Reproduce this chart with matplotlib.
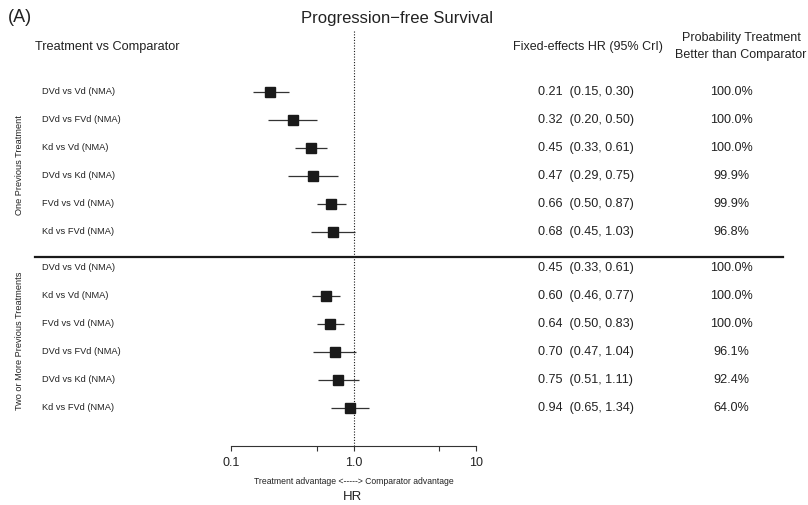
import matplotlib
matplotlib.use("Agg")
import matplotlib.pyplot as plt
import numpy as np
from matplotlib import transforms
from matplotlib.ticker import NullLocator

plt.rcParams['font.family'] = ['Liberation Sans', 'DejaVu Sans']

groups = ["One Previous Treatment", "Two or More Previous Treatments"]

labels_one = ["DVd vs Vd (NMA)", "DVd vs FVd (NMA)", "Kd vs Vd (NMA)",
              "DVd vs Kd (NMA)", "FVd vs Vd (NMA)", "Kd vs FVd (NMA)"]
hr_one = [0.21, 0.32, 0.45, 0.47, 0.66, 0.68]
lo_one = [0.15, 0.20, 0.33, 0.29, 0.50, 0.45]
hi_one = [0.30, 0.50, 0.61, 0.75, 0.87, 1.03]
prob_one = [100.0, 100.0, 100.0, 99.9, 99.9, 96.8]
shown_one = [True, True, True, True, True, True]

labels_two = ["DVd vs Vd (NMA)", "Kd vs Vd (NMA)", "FVd vs Vd (NMA)",
              "DVd vs FVd (NMA)", "DVd vs Kd (NMA)", "Kd vs FVd (NMA)"]
hr_two = [0.45, 0.60, 0.64, 0.70, 0.75, 0.94]
lo_two = [0.33, 0.46, 0.50, 0.47, 0.51, 0.65]
hi_two = [0.61, 0.77, 0.83, 1.04, 1.11, 1.34]
prob_two = [100.0, 100.0, 100.0, 96.1, 92.4, 64.0]
shown_two = [False, True, True, True, True, True]  # no point drawn for first row in original

x_ticks = [0.1, 0.5, 1, 5, 10]
x_ticklabels = ["0.1", "", "1.0", "", "10"]

W, H = 808, 505
dark = "#1a1a1a"
txt = "#222222"

fig = plt.figure(figsize=(W / 100, H / 100), dpi=100)
ax = fig.add_axes([231 / W, 1 - 446 / H, 245 / W, (446 - 30) / H])
ax.set_xscale("log")
ax.set_xlim(0.1, 10)
# rows are 28 px apart, first row at y=92 px
ax.set_ylim((446 - 92) / 28, (30 - 92) / 28)

blend = transforms.blended_transform_factory(fig.transFigure, ax.transData)

rows_one = np.arange(6)
rows_two = np.arange(6) + 6 + 8 / 28
sep = (257 - 92) / 28

blocks = [
    (rows_one, labels_one, hr_one, lo_one, hi_one, prob_one, shown_one),
    (rows_two, labels_two, hr_two, lo_two, hi_two, prob_two, shown_two),
]

for g, (rows, labs, hr, lo, hi, prob, shown) in enumerate(blocks):
    for y, lab, h, l, u, p, s in zip(rows, labs, hr, lo, hi, prob, shown):
        if s:
            ax.plot([l, u], [y, y], color="#333333", lw=0.9, solid_capstyle="butt")
            ax.plot(h, y, "s", ms=6.8, color=dark)
        ax.text(42 / W, y, lab, transform=blend, ha="left", va="center",
                fontsize=6.7, color=txt)
        ax.text(538 / W, y, f"{h:.2f}  ({l:.2f}, {u:.2f})", transform=blend,
                ha="left", va="center", fontsize=9.1, color=txt)
        ax.text(731 / W, y, f"{p:.1f}%", transform=blend, ha="center",
                va="center", fontsize=9.1, color=txt)
    ax.text(20 / W, rows.mean() + 0.1, groups[g], transform=blend, rotation=90,
            ha="center", va="center", fontsize=6.6, color=txt)

ax.plot([35 / W, 783 / W], [sep, sep], transform=blend, color=dark, lw=1.6,
        clip_on=False)

ax.axvline(1, color=dark, ls=(0, (1, 1.5)), lw=0.8)

for side in ["left", "right", "top"]:
    ax.spines[side].set_visible(False)
ax.spines["bottom"].set_color("#333333")
ax.set_yticks([])
ax.set_xticks(x_ticks)
ax.set_xticklabels(x_ticklabels)
ax.xaxis.set_minor_locator(NullLocator())
ax.tick_params(axis="x", length=3.6, width=0.8, labelsize=9, pad=4,
               colors="#333333", labelcolor=txt)

fig.text(8 / W, 1 - 18 / H, "(A)", ha="left", va="center", fontsize=13, color=txt)
fig.text(397 / W, 1 - 18 / H, "Progression\u2212free Survival", ha="center",
         va="center", fontsize=12, color=txt)
fig.text(35 / W, 1 - 47 / H, "Treatment vs Comparator", ha="left",
         va="center", fontsize=9.2, color=txt)
fig.text(588 / W, 1 - 47 / H, "Fixed-effects HR (95% CrI)", ha="center",
         va="center", fontsize=9, color=txt)
fig.text(741 / W, 1 - 46.5 / H, "Probability Treatment\nBetter than Comparator",
         ha="center", va="center", fontsize=9, color=txt, linespacing=1.5)
fig.text(354 / W, 1 - 481 / H, "Treatment advantage <-----> Comparator advantage",
         ha="center", va="center", fontsize=6.2, color=txt)
fig.text(353 / W, 1 - 497 / H, "HR", ha="center", va="center", fontsize=9.5,
         color=txt)

fig.savefig("out.png", dpi=100)
